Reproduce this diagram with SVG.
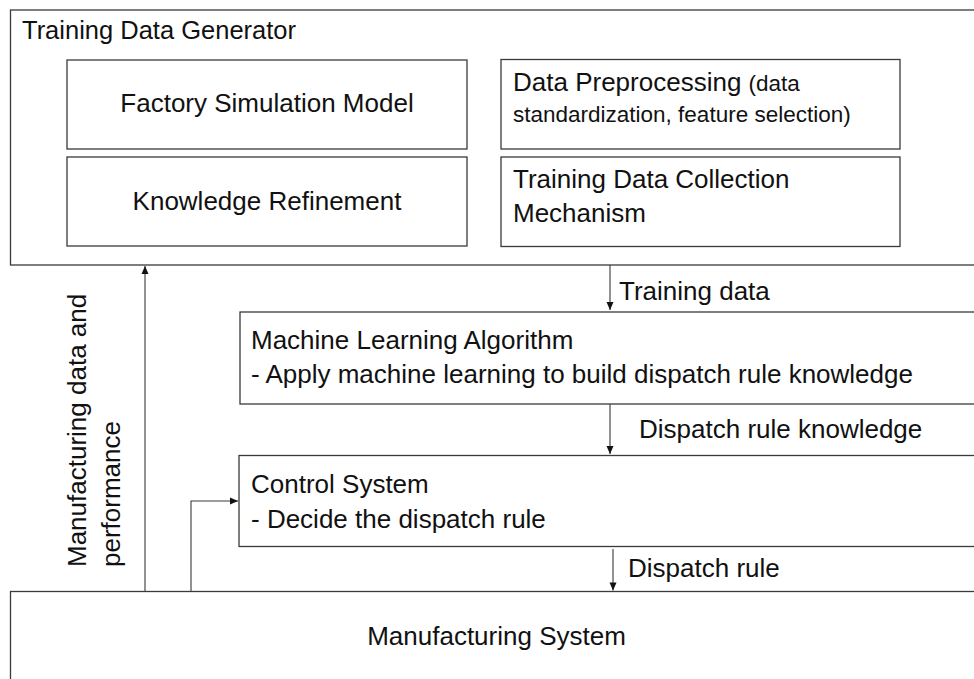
<svg xmlns="http://www.w3.org/2000/svg" width="974" height="679" viewBox="0 0 974 679">
<defs>
<style>
.box{fill:#fff;stroke:#3a3a3a;stroke-width:1.3}
.t{font-family:"Liberation Sans",Arial,sans-serif;font-size:26px;fill:#111}
.s{font-size:22.5px}
.c{stroke:#3a3a3a;stroke-width:1.1;fill:none}
</style>
<marker id="ah" markerWidth="10" markerHeight="10" refX="9" refY="5" orient="auto" markerUnits="userSpaceOnUse">
<path d="M1,1.5 L9,5 L1,8.5 Z" fill="#111"/>
</marker>
</defs>
<rect width="974" height="679" fill="#fff"/>
<g id="training-data-generator">
<rect class="box" x="10.5" y="10" width="975" height="255"/>
<text class="t" x="22" y="39" textLength="274" lengthAdjust="spacingAndGlyphs">Training Data Generator</text>
</g>
<g id="factory-simulation-model">
<rect class="box" x="67" y="60" width="400" height="89"/>
<text class="t" x="267" y="111.5" text-anchor="middle">Factory Simulation Model</text>
</g>
<g id="knowledge-refinement">
<rect class="box" x="67" y="157" width="400" height="89"/>
<text class="t" x="267" y="210" text-anchor="middle">Knowledge Refinement</text>
</g>
<g id="data-preprocessing">
<rect class="box" x="501" y="59.5" width="399" height="89.5"/>
<text class="t" x="513" y="90.5">Data Preprocessing <tspan class="s">(data</tspan></text>
<text class="t s" x="513" y="121.5">standardization, feature selection)</text>
</g>
<g id="training-data-collection">
<rect class="box" x="501" y="157" width="399" height="89.5"/>
<text class="t" x="513" y="188">Training Data Collection</text>
<text class="t" x="513" y="221.5">Mechanism</text>
</g>
<g id="machine-learning-algorithm">
<rect class="box" x="240" y="312" width="745" height="92"/>
<text class="t" x="251" y="349">Machine Learning Algorithm</text>
<text class="t" x="251" y="383">- Apply machine learning to build dispatch rule knowledge</text>
</g>
<g id="control-system">
<rect class="box" x="239" y="455.5" width="746" height="91"/>
<text class="t" x="251" y="493">Control System</text>
<text class="t" x="251" y="528">- Decide the dispatch rule</text>
</g>
<g id="manufacturing-system">
<rect class="box" x="10.5" y="591.5" width="975" height="100"/>
<text class="t" x="496.5" y="645" text-anchor="middle">Manufacturing System</text>
</g>
<g id="connectors">
<path class="c" d="M610,265 V310" marker-end="url(#ah)"/>
<path class="c" d="M610,404 V454" marker-end="url(#ah)"/>
<path class="c" d="M613,549 V590.5" marker-end="url(#ah)"/>
<path class="c" d="M145,591.5 V266" marker-end="url(#ah)"/>
<path class="c" d="M191,591.5 V501 H238" marker-end="url(#ah)"/>
<text class="t" x="619" y="299.5">Training data</text>
<text class="t" x="639" y="438">Dispatch rule knowledge</text>
<text class="t" x="628" y="577">Dispatch rule</text>
<text class="t" transform="translate(86,567) rotate(-90)">Manufacturing data and</text>
<text class="t" transform="translate(120,567) rotate(-90)">performance</text>
</g>
</svg>
